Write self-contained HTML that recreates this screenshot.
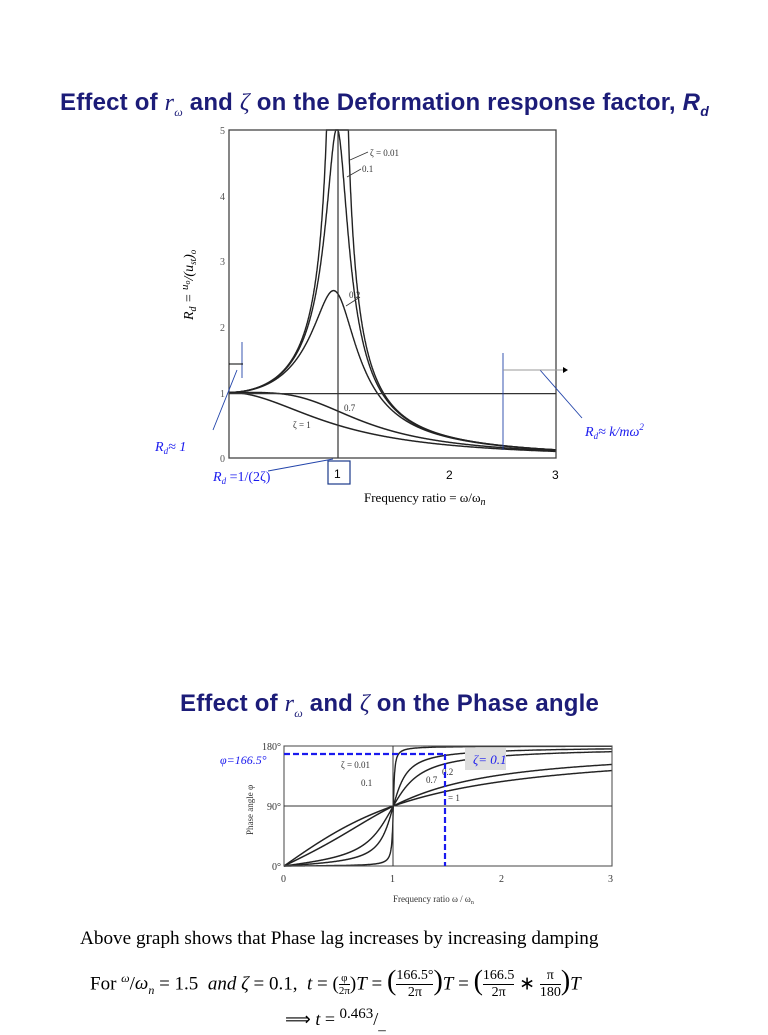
<!DOCTYPE html>
<html><head><meta charset="utf-8">
<style>
body{margin:0;background:#fff;width:768px;height:1024px;overflow:hidden;position:relative;font-family:"Liberation Serif",serif}
.t{position:absolute;font-family:"Liberation Sans",sans-serif;font-weight:bold;color:#1c1c78;font-size:24px;white-space:nowrap;letter-spacing:0.2px}
.a{position:absolute;white-space:nowrap}
.fr{display:inline-block;vertical-align:middle;text-align:center;font-size:14px;line-height:16px}
.fr span{display:block}
.fr span:first-child{border-bottom:1px solid #000}
</style></head><body>
<div class="t" style="left:60px;top:89px">Effect of <i style="font-family:'Liberation Serif';font-weight:normal">r<sub style="font-size:12px">ω</sub></i> and <i style="font-family:'Liberation Serif';font-weight:normal">ζ</i> on the Deformation response factor, <i>R<sub style="font-size:14px">d</sub></i></div>
<div class="t" style="left:180px;top:690px">Effect of <i style="font-family:'Liberation Serif';font-weight:normal">r<sub style="font-size:12px">ω</sub></i> and <i style="font-family:'Liberation Serif';font-weight:normal">ζ</i> on the Phase angle</div>
<svg id="s" width="768" height="1024" style="position:absolute;left:0;top:0" font-family="Liberation Serif">
<g id="g1" fill="none" stroke="#222" stroke-width="1.4"></g>
<g id="g2" fill="none" stroke="#222" stroke-width="1.4"></g>
<rect x="229" y="130" width="327" height="328" fill="none" stroke="#444" stroke-width="1.3"/>
<line x1="229" y1="393.6" x2="556" y2="393.6" stroke="#333" stroke-width="1.2"/>
<line x1="338" y1="130" x2="338" y2="458" stroke="#333" stroke-width="1.2"/>
<g font-size="10" fill="#555" text-anchor="end">
<text x="225" y="134">5</text><text x="225" y="200">4</text><text x="225" y="265">3</text><text x="225" y="331">2</text><text x="225" y="397">1</text><text x="225" y="462">0</text>
</g>
<g font-size="9" fill="#333">
<text x="370" y="156">ζ = 0.01</text><text x="362" y="172">0.1</text><text x="349" y="298">0.2</text><text x="344" y="411">0.7</text><text x="293" y="428">ζ = 1</text>
</g>
<g stroke="#333" stroke-width="0.8">
<line x1="350" y1="160" x2="368" y2="152"/><line x1="347" y1="177" x2="361" y2="169"/><line x1="346" y1="306" x2="360" y2="297"/>
</g>
<rect x="328" y="461" width="22" height="23" fill="none" stroke="#1a3a8a" stroke-width="1.2"/>
<text x="334" y="478" font-family="Liberation Sans" font-size="12">1</text>
<text x="446" y="479" font-family="Liberation Sans" font-size="12">2</text>
<text x="552" y="479" font-family="Liberation Sans" font-size="12">3</text>
<text x="364" y="502" font-size="13">Frequency ratio = ω/ω<tspan font-style="italic" font-size="10" dy="3">n</tspan></text>
<text transform="translate(193,320) rotate(-90)" font-size="14" font-style="italic">R<tspan font-size="10" dy="3">d</tspan><tspan dy="-3"> = </tspan><tspan dy="-5" font-size="11">u</tspan><tspan font-size="8" dy="2">o</tspan><tspan dy="3">/(u</tspan><tspan font-size="9" dy="3">st</tspan><tspan dy="-3">)</tspan><tspan font-size="9" dy="3">o</tspan></text>
<g stroke="#2244aa" stroke-width="0.9" fill="none">
<line x1="242" y1="342" x2="242" y2="378"/>
<line x1="237" y1="370" x2="213" y2="430"/>
<line x1="503" y1="353" x2="503" y2="450"/>
<line x1="540" y1="370" x2="582" y2="418"/>
<line x1="268" y1="471" x2="333" y2="459"/>
</g>
<line x1="229" y1="364" x2="243" y2="364" stroke="#000" stroke-width="1"/>
<line x1="503" y1="370" x2="563" y2="370" stroke="#999" stroke-width="1"/>
<polygon points="563,367 568,370 563,373" fill="#000"/>
<text x="155" y="451" fill="#1a1aee" font-size="14" font-style="italic">R<tspan font-size="9" dy="3">d</tspan><tspan dy="-3">≈ 1</tspan></text>
<text x="213" y="481" fill="#1a1aee" font-size="14"><tspan font-style="italic">R</tspan><tspan font-size="9" dy="3" font-style="italic">d</tspan><tspan dy="-3"> =1/(2ζ)</tspan></text>
<text x="585" y="436" fill="#1a1aee" font-size="14" font-style="italic">R<tspan font-size="9" dy="3">d</tspan><tspan dy="-3">≈ k/mω</tspan><tspan dy="-6" font-size="9">2</tspan></text>
<rect x="284" y="746" width="328" height="120" fill="none" stroke="#555" stroke-width="1.1"/>
<line x1="284" y1="806" x2="612" y2="806" stroke="#333" stroke-width="1"/>
<line x1="393" y1="746" x2="393" y2="866" stroke="#333" stroke-width="1"/>
<g font-size="10" fill="#333">
<text x="262" y="750">180°</text><text x="267" y="810">90°</text><text x="272" y="870">0°</text>
<text x="281" y="882">0</text><text x="390" y="882">1</text><text x="499" y="882">2</text><text x="608" y="882">3</text>
<text x="393" y="902" font-size="9">Frequency ratio ω / ω<tspan font-size="6" dy="2">n</tspan></text>
<text transform="translate(253,835) rotate(-90)" font-size="9">Phase angle φ</text>
<text x="341" y="768" font-size="9">ζ = 0.01</text><text x="361" y="786" font-size="9">0.1</text>
<text x="426" y="783" font-size="9">0.7</text><text x="442" y="775" font-size="9">0.2</text><text x="448" y="801" font-size="9">= 1</text>
</g>
<rect x="465" y="748" width="41" height="22" fill="#ddd"/>
<text x="473" y="764" fill="#1a1aee" font-size="13" font-style="italic">ζ= 0.1</text>
<g stroke="#1a1aee" stroke-width="2.2" stroke-dasharray="6,3" fill="none">
<line x1="284" y1="754" x2="445" y2="754"/><line x1="445" y1="754" x2="445" y2="866"/>
</g>
<text x="220" y="764" fill="#1a1aee" font-size="12" font-style="italic">φ=166.5°</text>
</svg>
<div class="a" style="left:80px;top:928px;font-size:19.2px">Above graph shows that Phase lag increases by increasing damping</div>
<div class="a" style="left:90px;top:958px;font-size:19px;line-height:40px">For <sup style="font-size:12px;font-style:italic">ω</sup>/<i>ω<sub style="font-size:12px">n</sub></i> = 1.5 &nbsp;<i>and ζ</i> = 0.1, &nbsp;<i>t</i> = (<span class="fr" style="font-size:11px;line-height:12px"><span>φ</span><span>2π</span></span>)<i>T</i> = <span style="font-size:28px">(</span><span class="fr"><span>166.5°</span><span>2π</span></span><span style="font-size:28px">)</span><i>T</i> = <span style="font-size:28px">(</span><span class="fr"><span>166.5</span><span>2π</span></span> ∗ <span class="fr"><span>π</span><span>180</span></span><span style="font-size:28px">)</span><i>T</i></div>
<div class="a" style="left:285px;top:1006px;font-size:18px">⟹ <i>t</i> = <sup>0.463</sup>/<sub>_</sub></div>
<script>
function p(xs,ys){return xs.map((x,i)=>(i?'L':'M')+x.toFixed(1)+','+ys[i].toFixed(1)).join('')}
const Z=[0.01,0.1,0.2,0.7,1];
let g1=document.getElementById('g1'),g2=document.getElementById('g2');
for(const z of Z){
 let a=[],b=[],c=[],d=[];
 for(let i=0;i<=3000;i++){let r=i/1000;
  let R=1/Math.sqrt((1-r*r)**2+(2*z*r)**2);
  let y=458-65.6*R; if(y<130)y=130;
  a.push(229+109*r);b.push(y);
  let ph=Math.atan2(2*z*r,1-r*r);
  c.push(284+109.33*r);d.push(866-120*ph/Math.PI);}
 let e=document.createElementNS('http://www.w3.org/2000/svg','path');e.setAttribute('d',p(a,b));g1.appendChild(e);
 let f=document.createElementNS('http://www.w3.org/2000/svg','path');f.setAttribute('d',p(c,d));g2.appendChild(f);
}
</script>
</body></html>
